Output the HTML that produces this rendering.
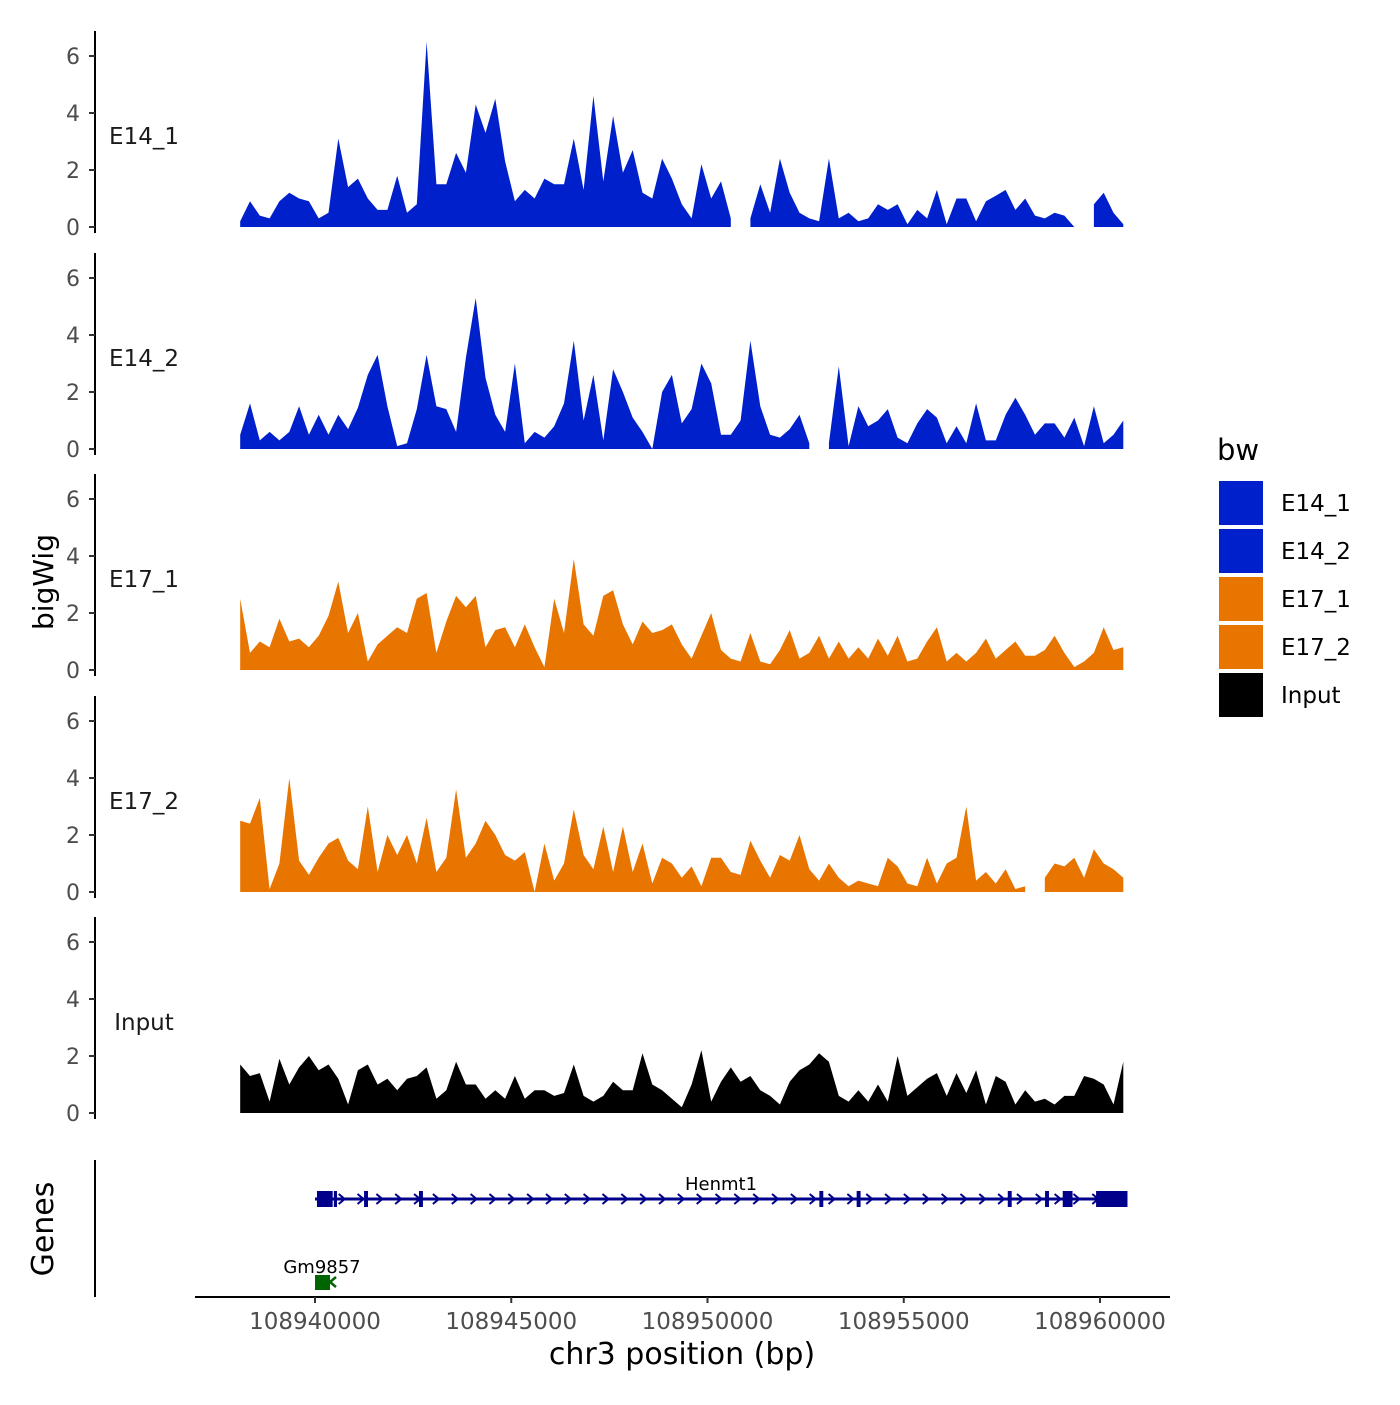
<!DOCTYPE html>
<html><head><meta charset="utf-8"><style>
body{margin:0;background:#fff}
svg text{font-family:"DejaVu Sans","Liberation Sans",sans-serif}
</style></head><body>
<svg id="c" width="1400" height="1400" viewBox="0 0 1400 1400"></svg>
<script>
const startBp = 108938094;
const stepBp = 250;
const trackNames = ["E14_1","E14_2","E17_1","E17_2","Input"];
const e14_1 = [0.2,0.9,0.4,0.3,0.9,1.2,1.0,0.9,0.3,0.5,3.1,1.4,1.7,1.0,0.6,0.6,1.8,0.5,0.8,6.5,1.5,1.5,2.6,1.9,4.3,3.3,4.5,2.3,0.9,1.3,1.0,1.7,1.5,1.5,3.1,1.3,4.6,1.6,3.9,1.9,2.7,1.2,1.0,2.4,1.7,0.8,0.3,2.2,1.0,1.6,0.3,null,0.3,1.5,0.5,2.4,1.2,0.5,0.3,0.2,2.4,0.3,0.5,0.2,0.3,0.8,0.6,0.8,0.1,0.6,0.3,1.3,0.1,1.0,1.0,0.2,0.9,1.1,1.3,0.6,1.0,0.4,0.3,0.5,0.4,0.0,null,0.8,1.2,0.5,0.1];
const e14_2 = [0.5,1.6,0.3,0.6,0.3,0.6,1.5,0.5,1.2,0.5,1.2,0.7,1.45,2.6,3.3,1.5,0.1,0.2,1.4,3.3,1.5,1.4,0.6,3.2,5.3,2.5,1.2,0.6,3.0,0.2,0.6,0.4,0.8,1.6,3.8,1.0,2.6,0.3,2.8,2.0,1.1,0.6,0.0,2.0,2.6,0.9,1.4,3.0,2.3,0.5,0.5,1.0,3.8,1.5,0.5,0.4,0.7,1.2,0.2,null,0.2,2.9,0.1,1.5,0.8,1.0,1.4,0.4,0.2,0.9,1.4,1.1,0.2,0.8,0.2,1.6,0.3,0.3,1.2,1.8,1.2,0.5,0.9,0.9,0.4,1.1,0.1,1.5,0.2,0.5,1.0];
const e17_1 = [2.5,0.6,1.0,0.8,1.8,1.0,1.1,0.8,1.2,1.9,3.1,1.3,2.0,0.3,0.9,1.2,1.5,1.3,2.5,2.7,0.6,1.7,2.6,2.2,2.6,0.8,1.4,1.5,0.8,1.6,0.8,0.1,2.5,1.3,3.9,1.6,1.2,2.6,2.8,1.6,0.9,1.7,1.3,1.4,1.6,0.9,0.4,1.2,2.0,0.7,0.4,0.3,1.3,0.3,0.2,0.7,1.4,0.4,0.6,1.2,0.4,1.0,0.4,0.8,0.4,1.1,0.5,1.2,0.3,0.4,1.0,1.5,0.3,0.6,0.3,0.6,1.1,0.4,0.7,1.0,0.5,0.5,0.7,1.2,0.6,0.1,0.3,0.6,1.5,0.7,0.8];
const e17_2 = [2.5,2.4,3.3,0.1,1.0,4.0,1.1,0.6,1.2,1.7,1.9,1.1,0.8,3.0,0.7,2.0,1.3,2.0,1.0,2.6,0.7,1.2,3.6,1.2,1.7,2.5,2.0,1.3,1.1,1.4,0.0,1.7,0.4,1.0,2.9,1.3,0.8,2.3,0.7,2.3,0.7,1.7,0.3,1.2,1.0,0.5,0.9,0.2,1.2,1.2,0.7,0.6,1.8,1.1,0.5,1.3,1.1,2.0,0.8,0.4,1.0,0.5,0.2,0.4,0.3,0.2,1.2,0.9,0.3,0.2,1.2,0.3,1.0,1.2,3.0,0.4,0.7,0.3,0.8,0.1,0.2,null,0.5,1.0,0.9,1.2,0.5,1.5,1.0,0.8,0.5];
const inputVals = [1.7,1.3,1.4,0.4,1.9,1.0,1.6,2.0,1.5,1.7,1.2,0.3,1.5,1.7,1.0,1.2,0.8,1.2,1.3,1.6,0.5,0.8,1.8,1.0,1.0,0.5,0.8,0.5,1.3,0.5,0.8,0.8,0.6,0.7,1.7,0.6,0.4,0.6,1.1,0.8,0.8,2.1,1.0,0.8,0.5,0.2,1.0,2.2,0.4,1.1,1.6,1.1,1.3,0.8,0.6,0.3,1.1,1.5,1.7,2.1,1.8,0.6,0.4,0.8,0.4,1.0,0.4,2.0,0.6,0.9,1.2,1.4,0.6,1.4,0.7,1.5,0.3,1.3,1.1,0.3,0.8,0.4,0.5,0.3,0.6,0.6,1.3,1.2,1.0,0.3,1.8];
const trackVals = [e14_1,e14_2,e17_1,e17_2,inputVals];
const trackColors = ["#0020CC","#0020CC","#E87500","#E87500","#000000"];
const yTicks = [0,2,4,6];
const xTicks = [108940000,108945000,108950000,108955000,108960000];
const legendLabels = ["E14_1","E14_2","E17_1","E17_2","Input"];

const NS="http://www.w3.org/2000/svg";
const svg=document.getElementById('c');
function mk(tag,attrs,parent){const e=document.createElementNS(NS,tag);for(const k in attrs)e.setAttribute(k,attrs[k]);(parent||svg).appendChild(e);return e;}
const xScale = bp => 315 + (bp-108940000)*0.03925;
const baselines=[227,449,670,892,1113];
const yScale = (v,p) => baselines[p] - v*28.5;

trackVals.forEach((vals,p)=>{
  const g=mk('g',{});
  
  
  const ax=mk('line',{x1:95,x2:95,y1:baselines[p]-196,y2:baselines[p]+6,stroke:'#000','stroke-width':2},g);
  
  
  yTicks.forEach(t=>{
    const y=yScale(t,p);
    const tk=mk('line',{x1:89,x2:95,y1:y,y2:y,stroke:'#333','stroke-width':2},g);
    
    
    const tx=mk('text',{x:80,y:y+8,'text-anchor':'end','font-size':22,fill:'#4d4d4d'},g);
    tx.textContent=t;
    
    
  });
  const lb=mk('text',{x:144,y:yScale(3.2,p)+8,'text-anchor':'middle','font-size':23,fill:'#1a1a1a'},g);
  lb.textContent=trackNames[p];
  
  
  let seg=[];
  const segs=[];
  vals.forEach((v,i)=>{
    if(v===null){if(seg.length)segs.push(seg);seg=[];}
    else seg.push([xScale(startBp+i*stepBp),yScale(v,p)]);
  });
  if(seg.length)segs.push(seg);
  segs.forEach(s=>{
    let d='M'+s[0][0]+','+baselines[p];
    s.forEach(pt=>d+='L'+pt[0].toFixed(1)+','+pt[1].toFixed(1));
    d+='L'+s[s.length-1][0]+','+baselines[p]+'Z';
    const a=mk('path',{d:d,fill:trackColors[p]},g);
    
    
  });
});

const yt=mk('text',{x:53,y:582,'text-anchor':'middle','font-size':28,fill:'#000',transform:'rotate(-90 53 582)'});
yt.textContent='bigWig';


const gt=mk('text',{x:53,y:1229,'text-anchor':'middle','font-size':30,fill:'#000',transform:'rotate(-90 53 1229)'});
gt.textContent='Genes';



const gax=mk('line',{x1:95,x2:95,y1:1160,y2:1297,stroke:'#000','stroke-width':2});


const gene=mk('g',{});


mk('line',{x1:xScale(108940000),x2:xScale(108960700),y1:1199,y2:1199,stroke:'#00008B','stroke-width':3},gene);
for(let bp=108940200;bp<108960500;bp+=480){
  const x=xScale(bp);
  mk('path',{d:`M${x-3},${1194}L${x+3},1199L${x-3},1204`,fill:'none',stroke:'#00008B','stroke-width':2},gene);
}
const exons=[[108940050,108940450,16],[108940480,108940560,16],[108941250,108941350,16],[108942650,108942750,16],[108952850,108952950,16],[108953800,108953900,16],[108957650,108957750,16],[108958600,108958700,16],[108959050,108959300,16],[108959900,108960700,16]];
exons.forEach(e=>{
  const r=mk('rect',{x:xScale(e[0]),y:1199-e[2]/2,width:xScale(e[1])-xScale(e[0]),height:e[2],fill:'#00008B'},gene);
  
  
});
const gl=mk('text',{x:721,y:1190,'text-anchor':'middle','font-size':18,fill:'#000'});
gl.textContent='Henmt1';


const g2=mk('g',{});


mk('rect',{x:315,y:1275,width:15,height:15,fill:'#006400'},g2);
mk('path',{d:'M336,1277L330,1282L336,1287',fill:'none',stroke:'#006400','stroke-width':2.5},g2);
const gl2=mk('text',{x:322,y:1273,'text-anchor':'middle','font-size':18,fill:'#000'});
gl2.textContent='Gm9857';



const xa=mk('line',{x1:195,x2:1170,y1:1297,y2:1297,stroke:'#000','stroke-width':2});


xTicks.forEach(t=>{
  const x=xScale(t);
  const tk=mk('line',{x1:x,x2:x,y1:1297,y2:1303,stroke:'#333','stroke-width':2});
  
  
  const tx=mk('text',{x:x,y:1329,'text-anchor':'middle','font-size':23,fill:'#4d4d4d'});
  tx.textContent=t;
  
  
});
const xt=mk('text',{x:682,y:1364,'text-anchor':'middle','font-size':30,fill:'#000'});
xt.textContent='chr3 position (bp)';



const lt=mk('text',{x:1217,y:460,'font-size':29,fill:'#000'});
lt.textContent='bw';


legendLabels.forEach((l,i)=>{
  const g=mk('g',{});
  
  
  mk('rect',{x:1219,y:481+i*48,width:44,height:44,fill:trackColors[i]},g);
  const t=mk('text',{x:1281,y:511+i*48,'font-size':23,fill:'#000'},g);
  t.textContent=l;
});
</script>
</body></html>
